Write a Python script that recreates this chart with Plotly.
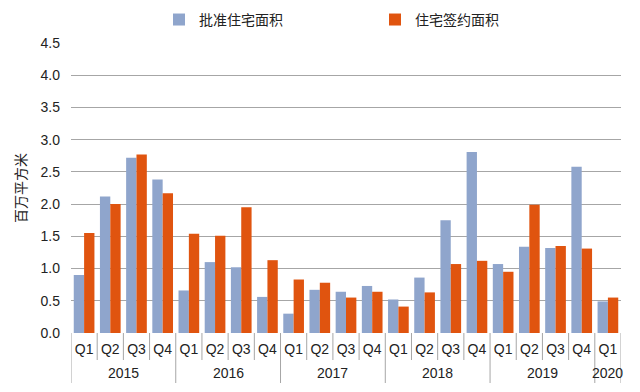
import plotly.graph_objects as go

years = ["2015"] * 4 + ["2016"] * 4 + ["2017"] * 4 + ["2018"] * 4 + ["2019"] * 4 + ["2020"]
quarters = ["Q1", "Q2", "Q3", "Q4"] * 5 + ["Q1"]

approved = [0.90, 2.12, 2.72, 2.38,
            0.66, 1.10, 1.02, 0.56,
            0.30, 0.67, 0.64, 0.73,
            0.52, 0.86, 1.75, 2.81,
            1.07, 1.34, 1.32, 2.58,
            0.49]
signed = [1.55, 2.00, 2.77, 2.17,
          1.54, 1.51, 1.95, 1.13,
          0.83, 0.78, 0.55, 0.64,
          0.41, 0.63, 1.07, 1.12,
          0.95, 1.99, 1.35, 1.31,
          0.55]

name_a = "批准住宅面积"
name_b = "住宅签约面积"
y_title = "百万平方米"
y_ticks = [0, 0.5, 1.0, 1.5, 2.0, 2.5, 3.0, 3.5, 4.0, 4.5]

cats = [f"{y} {q}" for y, q in zip(years, quarters)]
n = len(cats)

fig = go.Figure()
fig.add_trace(go.Bar(x=cats, y=approved, name=name_a,
                     marker=dict(color="#8FA5CC", line=dict(width=0))))
fig.add_trace(go.Bar(x=cats, y=signed, name=name_b,
                     marker=dict(color="#E0540F", line=dict(width=0))))

LINE = "#A6A6A6"
plot_h = 392 - 43 - 59
q_bottom = -(360 - 333) / plot_h
y_bottom = -(383 - 333) / plot_h

shapes = []
annotations = []
# quarter separators and year dividers
for i in range(n + 1):
    is_year_edge = (i == 0 or i == n or years[i] != years[i - 1])
    shapes.append(dict(type="line", xref="x", yref="paper", x0=i - 0.5, x1=i - 0.5,
                       y0=0, y1=y_bottom if is_year_edge else q_bottom,
                       line=dict(color=LINE, width=1)))
# year labels
seen = []
for y in years:
    if y not in seen:
        seen.append(y)
for y in seen:
    idx = [i for i, v in enumerate(years) if v == y]
    annotations.append(dict(text=y, xref="x", yref="paper", x=sum(idx) / len(idx),
                            y=-(373 - 333) / plot_h, yanchor="middle", showarrow=False,
                            font=dict(size=14, color="#222")))

fig.update_layout(
    width=640, height=392,
    margin=dict(l=71, r=19, t=43, b=59, autoexpand=False),
    paper_bgcolor="white", plot_bgcolor="rgba(0,0,0,0)",
    barmode="group", bargap=0.21, bargroupgap=0,
    font=dict(family="Liberation Sans, Arial, sans-serif", size=13, color="#222"),
    legend=dict(orientation="h", x=159 / 640, xanchor="left", xref="container",
                y=0.99, yanchor="top", yref="container",
                font=dict(family="Noto Sans CJK SC", size=14, color="#222"),
                entrywidth=171, entrywidthmode="pixels",
                bgcolor="rgba(0,0,0,0)"),
    showlegend=True,
    shapes=shapes,
    annotations=annotations,
)
fig.update_yaxes(range=[0, 4.5], tickvals=y_ticks, tickformat=".1f",
                 showgrid=True, gridcolor=LINE, gridwidth=1,
                 zeroline=False, showline=False, ticks="",
                 ticklabelstandoff=10, automargin=False,
                 tickfont=dict(size=14, color="#222"),
                 title=dict(text=y_title, font=dict(family="Noto Sans CJK SC", size=14, color="#222"),
                            standoff=10))
fig.update_xaxes(type="category", range=[-0.5, n - 0.5], tickvals=cats, ticktext=quarters,
                 showline=False, showgrid=False, ticks="", tickangle=0,
                 ticklabelstandoff=6, automargin=False,
                 tickfont=dict(size=14, color="#222"))

fig.write_html("out.html", post_script="document.body.style.margin='0';",
               config={"displayModeBar": False})
